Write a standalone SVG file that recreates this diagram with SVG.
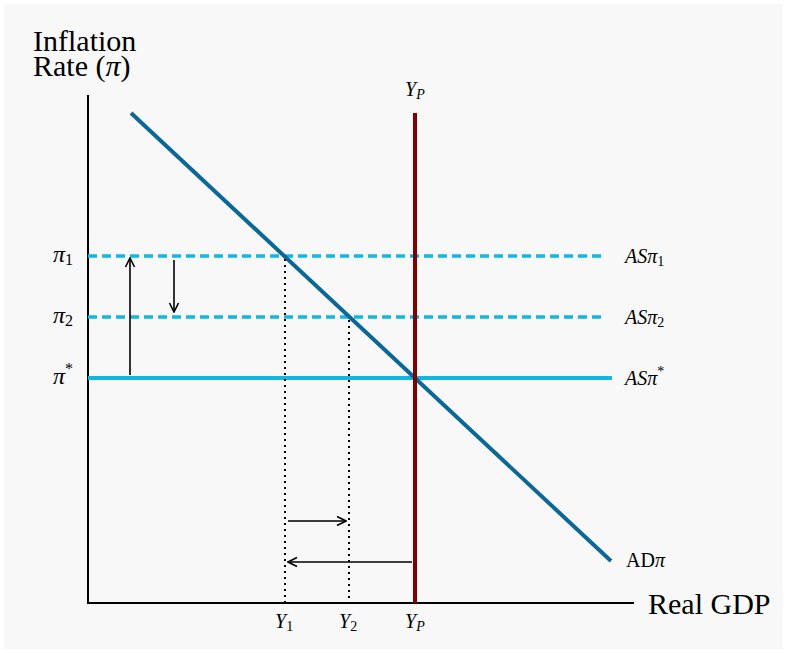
<svg xmlns="http://www.w3.org/2000/svg" width="787" height="653" viewBox="0 0 787 653">
<defs>
<marker id="ah" viewBox="0 0 12 12" refX="11" refY="6" markerWidth="12" markerHeight="12" markerUnits="userSpaceOnUse" orient="auto">
<path d="M2,1.5 L11,6 L2,10.5" fill="none" stroke="#000" stroke-width="1.6"/>
</marker>
<style>
.t{font-family:"Liberation Serif","Times New Roman",serif;fill:#000}
.i{font-style:italic}
.axis{stroke:#000;stroke-width:2;fill:none}
.as{stroke:#12b6df;fill:none}
.dot{stroke:#000;stroke-width:2;stroke-dasharray:2,4;fill:none}
.arr{stroke:#000;stroke-width:1.6;fill:none;marker-end:url(#ah)}
</style>
</defs>
<rect x="0" y="0" width="787" height="653" fill="#ffffff"/>
<rect x="4" y="4" width="779" height="645" fill="#f8f8f8"/>
<g id="axes">
<path class="axis" d="M88,95 V603 H634"/>
<text class="t" x="33" y="51" font-size="30">Inflation</text>
<text class="t" x="33" y="76" font-size="30">Rate (<tspan class="i">π</tspan>)</text>
<text class="t" x="648" y="614" font-size="30">Real GDP</text>
</g>
<g id="as-pi1">
<line class="as" x1="88" y1="256" x2="605" y2="256" stroke-width="3.5" stroke-dasharray="9,5"/>
<text class="t" x="53" y="262" font-size="24"><tspan class="i">π</tspan><tspan font-size="16" dy="3">1</tspan></text>
<text class="t i" x="625" y="263" font-size="20">ASπ<tspan font-size="14" dy="3" font-style="normal">1</tspan></text>
</g>
<g id="as-pi2">
<line class="as" x1="88" y1="317" x2="605" y2="317" stroke-width="3.5" stroke-dasharray="9,5"/>
<text class="t" x="53" y="323" font-size="24"><tspan class="i">π</tspan><tspan font-size="16" dy="3">2</tspan></text>
<text class="t i" x="625" y="324" font-size="20">ASπ<tspan font-size="14" dy="3" font-style="normal">2</tspan></text>
</g>
<g id="as-pistar">
<line class="as" x1="88" y1="378" x2="612" y2="378" stroke-width="4"/>
<text class="t" x="53" y="384" font-size="24"><tspan class="i">π</tspan><tspan font-size="16" dy="-10">*</tspan></text>
<text class="t i" x="625" y="385" font-size="20">ASπ<tspan font-size="14" dy="-9" font-style="normal">*</tspan></text>
</g>
<g id="ad">
<line x1="131" y1="113" x2="611" y2="561" stroke="#0b6895" stroke-width="4"/>
<text class="t" x="626" y="567" font-size="20">AD<tspan class="i">π</tspan></text>
</g>
<g id="yp">
<line x1="415" y1="113" x2="415" y2="603" stroke="#800000" stroke-width="4"/>
<text class="t i" x="405" y="96" font-size="20">Y<tspan font-size="14" dy="3">P</tspan></text>
<text class="t i" x="405" y="628" font-size="20">Y<tspan font-size="14" dy="3">P</tspan></text>
</g>
<g id="y1">
<line class="dot" x1="285" y1="259" x2="285" y2="602"/>
<text class="t" x="275" y="628" font-size="20"><tspan class="i">Y</tspan><tspan font-size="14" dy="3">1</tspan></text>
</g>
<g id="y2">
<line class="dot" x1="349" y1="320" x2="349" y2="602"/>
<text class="t" x="339" y="628" font-size="20"><tspan class="i">Y</tspan><tspan font-size="14" dy="3">2</tspan></text>
</g>
<g id="connectors">
<line class="arr" x1="130" y1="375" x2="130" y2="258"/>
<line class="arr" x1="174" y1="260" x2="174" y2="312"/>
<line class="arr" x1="288" y1="521" x2="346" y2="521"/>
<line class="arr" x1="412" y1="562" x2="288" y2="562"/>
</g>
</svg>
